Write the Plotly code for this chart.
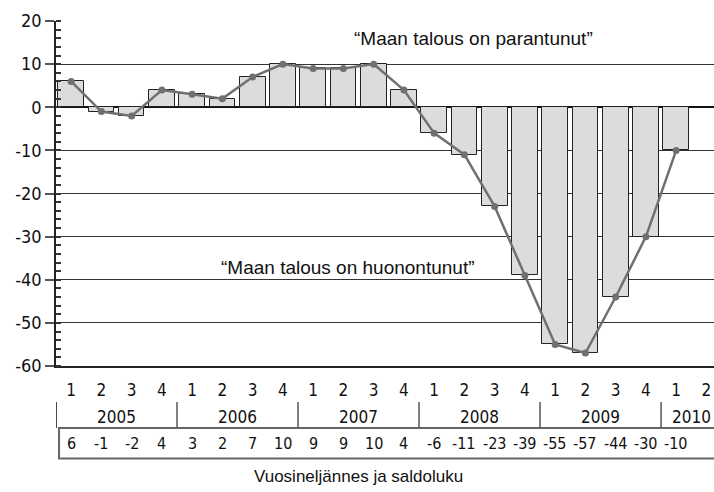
import plotly.graph_objects as go

# Quarterly balance figures, 2005 Q1 .. 2010 Q2 (last quarter has no data)
years = ["2005", "2006", "2007", "2008", "2009", "2010"]
quarters = ["1", "2", "3", "4"] * 5 + ["1", "2"]
saldo = [6, -1, -2, 4, 3, 2, 7, 10, 9, 9, 10, 4, -6, -11, -23, -39, -55, -57, -44, -30, -10, None]
saldo_labels = ["6", "-1", "-2", "4", "3", "2", "7", "10", "9", "9", "10", "4",
                "-6", "-11", "-23", "-39", "-55", "-57", "-44", "-30", "-10", ""]
y_ticks = [20, 10, 0, -10, -20, -30, -40, -50, -60]

idx = list(range(len(quarters)))
narrow = "DejaVu Sans Condensed, Liberation Sans Narrow, sans-serif"
plain = "Liberation Sans, Arial, sans-serif"

fig = go.Figure()

fig.add_trace(go.Bar(
    x=idx, y=saldo, width=0.85,
    marker=dict(color="#dcdcdc", line=dict(color="#222222", width=1)),
    showlegend=False, hoverinfo="skip"
))

fig.add_trace(go.Scatter(
    x=idx, y=saldo, mode="lines+markers",
    line=dict(color="#707070", width=2.5),
    marker=dict(color="#707070", size=7),
    showlegend=False
))

# annotations inside plot
fig.add_annotation(x=13.3, y=16, text="\u201cMaan talous on parantunut\u201d", showarrow=False,
                   font=dict(family=plain, size=19, color="#111"))
fig.add_annotation(x=9.15, y=-37.2, text="\u201cMaan talous on huonontunut\u201d", showarrow=False,
                   font=dict(family=plain, size=19, color="#111"))

# year row with separators
for i, yr in enumerate(years):
    start = i * 4
    end = min(start + 4, len(quarters))
    fig.add_annotation(x=(start + end - 1) / 2, y=-0.148, xref="x", yref="paper",
                       xanchor="center", yanchor="middle",
                       text=yr, showarrow=False,
                       font=dict(family=narrow, size=17, color="#111"))
    fig.add_shape(type="line", xref="x", yref="paper",
                  x0=start - 0.5, x1=start - 0.5, y0=-0.104, y1=-0.18,
                  line=dict(color="#111" if i == 0 else "#555", width=1.5))

# table row with saldo values
fig.add_shape(type="rect", xref="x", yref="paper",
              x0=-0.4, x1=22, y0=-0.18, y1=-0.268,
              line=dict(color="#666666", width=2))
for i, lab in enumerate(saldo_labels):
    fig.add_annotation(x=i, y=-0.226, xref="x", yref="paper", text=lab, showarrow=False,
                       xanchor="center", yanchor="middle",
                       font=dict(family=narrow, size=16, color="#111"))

fig.add_annotation(x=0.459, y=-0.288, xref="paper", yref="paper",
                   xanchor="center", yanchor="top",
                   text="Vuosineljännes ja saldoluku", showarrow=False,
                   font=dict(family=plain, size=17, color="#111"))

fig.update_layout(
    width=714, height=492,
    margin=dict(l=56, r=0, t=21, b=126),
    plot_bgcolor="white", paper_bgcolor="white",
    bargap=0,
    xaxis=dict(
        range=[-0.5, 21.25],
        tickmode="array", tickvals=idx, ticktext=quarters,
        ticks="", showgrid=False, zeroline=False,
        showline=True, linecolor="#222", linewidth=2,
        ticklabelstandoff=8,
        tickfont=dict(family=narrow, size=17, color="#111"),
    ),
    yaxis=dict(
        range=[-60, 20],
        tickmode="array", tickvals=y_ticks, ticktext=[str(v) for v in y_ticks],
        ticks="outside", ticklen=9, tickcolor="#555", tickwidth=1.5,
        minor=dict(dtick=2, ticks="inside", ticklen=5, tickcolor="#333", showgrid=False),
        showgrid=True, gridcolor="#333", gridwidth=1,
        zeroline=True, zerolinecolor="#111", zerolinewidth=1.5,
        showline=True, linecolor="#222", linewidth=1.5,
        tickfont=dict(family=narrow, size=18, color="#111"),
    ),
)

fig.write_html("out.html", config={"displayModeBar": False},
               post_script="document.body.style.margin='0';")
